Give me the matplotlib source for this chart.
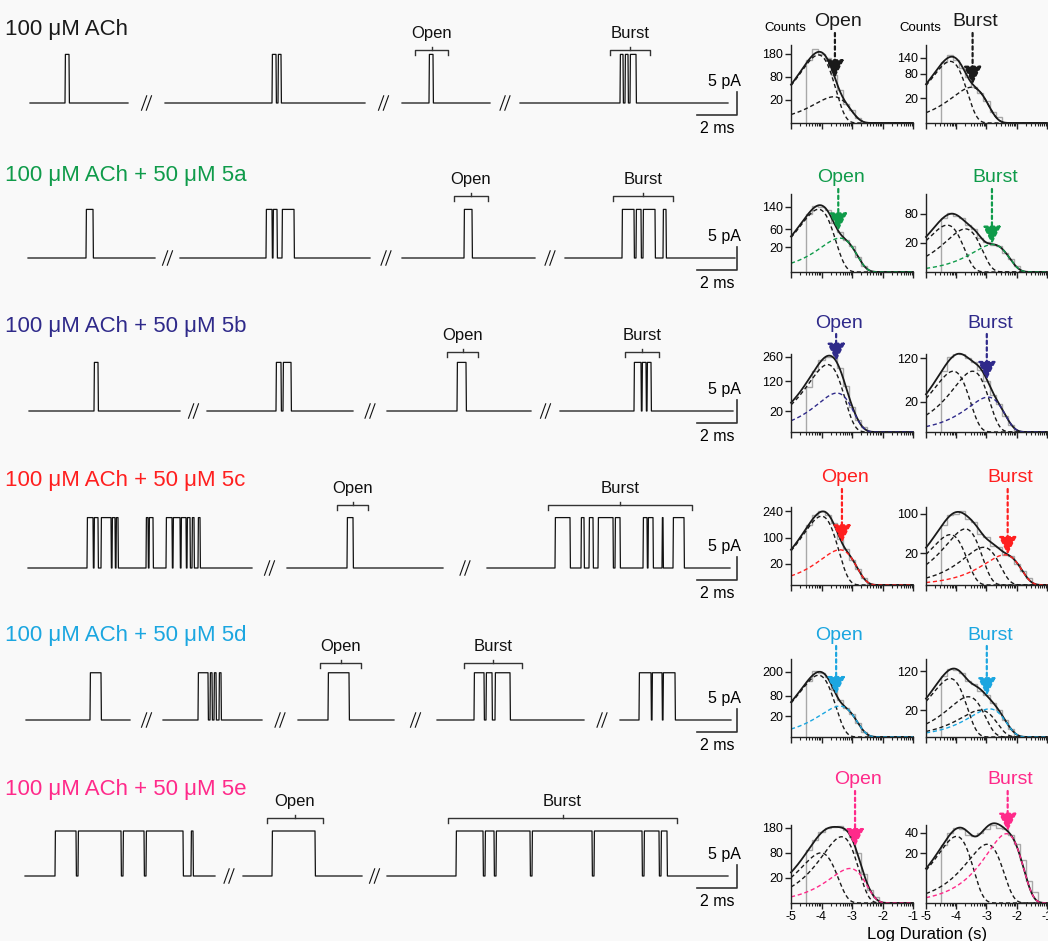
import numpy as np
import matplotlib
matplotlib.use('Agg')
import matplotlib.pyplot as plt

plt.rcParams['font.family'] = ['Liberation Sans', 'DejaVu Sans']
plt.rcParams['axes.unicode_minus'] = False

W, H = 1048, 941

# ---------------- data ----------------
row_labels = ['100 μM ACh', '100 μM ACh + 50 μM 5a', '100 μM ACh + 50 μM 5b',
              '100 μM ACh + 50 μM 5c', '100 μM ACh + 50 μM 5d', '100 μM ACh + 50 μM 5e']
row_colors = ['#1a1a1a', '#0f9b4a', '#2f2a8a', '#ff1f1f', '#1ba6e0', '#ff2a8a']

# single-channel trace segments (ms) and open intervals (ms)
trace_segments = [
    [(0.5, 5.4), (7.25, 17.25), (19.1, 23.5), (25.0, 35.4)],
    [(0.4, 6.75), (8.0, 17.5), (19.1, 25.75), (27.25, 35.75)],
    [(0.45, 8.0), (9.35, 16.65), (18.35, 25.55), (27.0, 35.65)],
    [(0.4, 11.6), (13.35, 21.15), (23.35, 35.5)],
    [(0.3, 5.5), (7.15, 12.1), (13.9, 18.7), (20.85, 28.2), (30.0, 35.55)],
    [(0.25, 9.75), (11.15, 17.1), (18.35, 35.4)],
]
trace_events = [
    [[(2.25, 2.45)], [(12.6, 12.8), (12.9, 13.05)], [(20.45, 20.65)],
     [(30.0, 30.15), (30.25, 30.4), (30.5, 30.8)]],
    [[(3.3, 3.65)], [(12.3, 12.6), (12.65, 12.85), (13.1, 13.7)], [(22.2, 22.6)],
     [(30.1, 30.7), (30.8, 31.05), (31.15, 31.75), (32.15, 32.3)]],
    [[(3.7, 3.9)], [(12.8, 13.05), (13.15, 13.55)], [(21.85, 22.3)],
     [(30.7, 31.05), (31.1, 31.3), (31.35, 31.55)]],
    [[(3.35, 3.65), (3.7, 3.9), (4.05, 4.55), (4.6, 4.75), (4.8, 4.9), (6.3, 6.4), (6.45, 6.65),
      (7.3, 7.6), (7.65, 8.0), (8.05, 8.3), (8.35, 8.5), (8.6, 8.7), (8.9, 9.0)],
     [(16.35, 16.65)],
     [(26.75, 27.5), (28.05, 28.2), (28.45, 28.65), (28.9, 29.65), (29.75, 30.0), (31.15, 31.35),
      (31.4, 31.65), (32.1, 32.15), (32.65, 33.2)]],
    [[(3.5, 4.05)], [(8.9, 9.4), (9.5, 9.6), (9.7, 9.8), (9.95, 10.05)], [(15.4, 16.45)],
     [(22.7, 23.2), (23.3, 23.6), (23.75, 24.5)], [(30.95, 31.55), (31.6, 32.1), (32.15, 32.75)]],
    [[(1.75, 2.8), (2.9, 5.05), (5.15, 6.2), (6.3, 8.15), (8.55, 8.65)], [(12.6, 14.75)],
     [(21.8, 23.15), (23.25, 23.7), (23.8, 25.5), (25.6, 28.6), (28.7, 31.1), (31.2, 31.95),
      (32.05, 32.35)]],
]
open_amp = [10.8, 10.8, 10.8, 11.2, 10.5, 10.0]          # pA
open_bracket = [(19.75, 21.4), (21.7, 23.4), (21.35, 22.9), (15.85, 17.4), (15.0, 17.05), (12.35, 15.15)]
burst_bracket = [(29.5, 31.5), (29.65, 32.65), (30.25, 31.95), (26.4, 33.6), (22.2, 25.1), (21.4, 32.85)]
bracket_level = [11.8, 13.8, 13.1, 14.0, 12.7, 12.9]     # pA

# dwell-time histograms: log10(duration) bins starting at -4.5, width 0.2
bin_start, bin_width = -4.5, 0.2
open_counts = [
    [150, 205, 182, 158, 86, 42, 14, 6, 1, 0],
    [112, 146, 140, 128, 78, 52, 33, 22, 7, 1],
    [95, 170, 240, 262, 258, 190, 98, 30, 7, 1],
    [160, 220, 246, 218, 170, 92, 58, 28, 12, 2],
    [150, 205, 196, 170, 102, 64, 40, 26, 9, 1],
    [88, 126, 160, 180, 186, 188, 172, 138, 80, 27, 5, 1],
]
burst_counts = [
    [122, 150, 131, 100, 70, 43, 30, 16, 4, 1],
    [68, 82, 74, 69, 52, 44, 27, 21, 17, 16, 9, 4, 1],
    [82, 125, 140, 134, 120, 110, 84, 58, 30, 17, 6, 1],
    [72, 98, 100, 108, 86, 78, 52, 45, 30, 29, 18, 17, 9, 4, 1],
    [105, 130, 124, 114, 86, 78, 60, 50, 32, 21, 8, 2],
    [27, 40, 46, 44, 38, 36, 40, 44, 50, 46, 44, 37, 28, 15, 4, 1],
]
# fitted components: (log10 tau, peak count); last component is the highlighted one
open_fit = [
    [(-4.1, 175), (-3.6, 26)],
    [(-4.1, 130), (-3.4, 38)],
    [(-3.8, 210), (-3.5, 70)],
    [(-4.0, 210), (-3.4, 55)],
    [(-4.1, 180), (-3.4, 45)],
    [(-4.02, 80), (-3.34, 140), (-3.07, 38)],
]
burst_fit = [
    [(-4.2, 125), (-3.5, 42)],
    [(-4.3, 52), (-3.7, 44), (-2.8, 18)],
    [(-4.1, 82), (-3.46, 82), (-2.95, 27)],
    [(-4.2, 50), (-3.7, 62), (-3.1, 28), (-2.4, 18)],
    [(-4.2, 95), (-3.6, 45), (-3.2, 20), (-2.9, 22)],
    [(-3.99, 36), (-2.98, 28), (-2.34, 39)],
]
open_arrow_x = [-3.56, -3.45, -3.52, -3.33, -3.52, -2.9]
burst_arrow_x = [-3.46, -2.82, -2.99, -2.3, -2.99, -2.3]
open_ticks = [[20, 80, 180], [20, 60, 140], [20, 120, 260], [20, 100, 240], [20, 80, 200], [20, 80, 180]]
burst_ticks = [[20, 80, 140], [20, 80], [20, 120], [20, 100], [20, 120], [20, 40]]
open_ymax = [230, 201, 281, 270, 287, 194]
burst_ymax = [200, 144, 135, 120, 169, 49.4]
xticks = [-5, -4, -3, -2, -1]

# ---------------- layout (pixels) ----------------
row_label_y = [30, 175, 326, 480, 635, 790]
trace_base_y = [103, 258, 411, 568, 720, 876]
hist_base_y = [123, 272, 432, 585, 737, 903]
hist_label_y = [22, 178, 323, 478, 635, 780]
PX_PER_PA = 4.5
HIST_H = 78

fig = plt.figure(figsize=(W / 100, H / 100), dpi=100)
fig.patch.set_facecolor('#f9f9f9')


def px_axes(x0, y_top, w, h):
    return fig.add_axes([x0 / W, 1 - (y_top + h) / H, w / W, h / H])


def comp(x, lt, peak):
    t = 10.0 ** (x - lt)
    return peak * np.e * t * np.exp(-t)


sqrt_f = (lambda y: np.sqrt(np.clip(y, 0, None)), lambda y: np.square(y))
xs = np.linspace(-5, -1, 400)
minor = [d + np.log10(k) for d in range(-5, -1) for k in range(2, 10)]

for r in range(6):
    col = row_colors[r]
    fig.text(5 / W, 1 - row_label_y[r] / H, row_labels[r], color=col, fontsize=16, va='center')

    # ---- trace ----
    base = trace_base_y[r]
    ax = px_axes(20, base - 90, 725, 120)
    ax.set_xlim(0, 725 / 20)
    ax.set_ylim(-30 / PX_PER_PA, 90 / PX_PER_PA)
    ax.axis('off')
    amp = open_amp[r]
    segs = trace_segments[r]
    for (s0, s1), evs in zip(segs, trace_events[r]):
        tx, ty = [s0], [0.0]
        for (a, b) in evs:
            tx += [a, a + 0.02, b, b + 0.02]
            ty += [0.0, amp, amp, 0.0]
        tx.append(s1)
        ty.append(0.0)
        ax.plot(tx, ty, color='#111111', lw=0.9)
    for (s0a, s1a), (s0b, s1b) in zip(segs[:-1], segs[1:]):
        m = 0.5 * (s1a + s0b)
        for off in (-0.12, 0.12):
            ax.plot([m + off - 0.13, m + off + 0.13], [-1.6, 1.6], color='#111111', lw=0.8)
    h = bracket_level[r]
    for (a, b), name in ((open_bracket[r], 'Open'), (burst_bracket[r], 'Burst')):
        ax.plot([a, a, b, b], [h - 1.2, h, h, h - 1.2], color='#333333', lw=1.0)
        xm = 0.5 * (a + b)
        ax.plot([xm, xm], [h, h + 0.6], color='#333333', lw=1.0)
        ax.text(xm, h + 3.6, name, ha='center', va='center', fontsize=12, color='#111111')
    sx0, sx1, sy0 = 33.85, 35.85, -2.6
    ax.plot([sx0, sx1, sx1], [sy0, sy0, sy0 + 5], color='#333333', lw=1.2)
    ax.text(36.05, sy0 + 7.4, '5 pA', ha='right', va='center', fontsize=11.5)
    ax.text(0.5 * (sx0 + sx1), sy0 - 3.0, '2 ms', ha='center', va='center', fontsize=11.5)

    # ---- histograms ----
    hb = hist_base_y[r]
    panels = [
        (791, 122, open_counts[r], open_fit[r], open_arrow_x[r], open_ticks[r], open_ymax[r], 'Open'),
        (926, 121, burst_counts[r], burst_fit[r], burst_arrow_x[r], burst_ticks[r], burst_ymax[r], 'Burst'),
    ]
    for (x0, w, counts, fit, axx, ticks, ymax, name) in panels:
        hx = px_axes(x0, hb - HIST_H, w, HIST_H)
        hx.set_facecolor('none')
        hx.set_yscale('function', functions=sqrt_f)
        hx.set_xlim(-5, -1)
        hx.set_ylim(0, ymax)
        edges = bin_start + bin_width * np.arange(len(counts) + 1)
        hx.stairs(counts, edges, color='#a8a8a8', lw=1.0, baseline=0)
        total = sum(comp(xs, lt, pk) for lt, pk in fit)
        hx.plot(xs, total, color='#1a1a1a', lw=1.3, clip_on=False)
        for i, (lt, pk) in enumerate(fit):
            c = col if i == len(fit) - 1 else '#1a1a1a'
            hx.plot(xs, comp(xs, lt, pk), color=c, lw=1.0, ls=(0, (3, 2)))
        tip = sum(comp(axx, lt, pk) for lt, pk in fit)
        ytxt = (hb - (hist_label_y[r] + 11)) / HIST_H
        hx.annotate('', xy=(axx, tip), xycoords='data', xytext=(axx, ytxt),
                    textcoords=('data', 'axes fraction'), annotation_clip=False,
                    arrowprops=dict(arrowstyle='-|>,head_length=0.9,head_width=0.45',
                                    color=col, lw=1.6, ls=(0, (1.5, 1.5)),
                                    mutation_scale=12, shrinkA=0, shrinkB=0))
        hx.text(axx + 0.1, (hb - hist_label_y[r]) / HIST_H, name, transform=hx.get_xaxis_transform(),
                ha='center', va='center', fontsize=14, color=col)
        for s in ('top', 'right'):
            hx.spines[s].set_visible(False)
        for s in ('left', 'bottom'):
            hx.spines[s].set_linewidth(1.0)
            hx.spines[s].set_color('#222222')
        hx.set_yticks(ticks)
        hx.set_yticklabels([str(t) for t in ticks])
        hx.yaxis.set_minor_locator(matplotlib.ticker.NullLocator())
        hx.set_xticks(xticks)
        hx.set_xticks(minor, minor=True)
        hx.tick_params(axis='both', which='major', length=4, width=1.0, labelsize=9, pad=1.5,
                       color='#222222')
        hx.tick_params(axis='x', which='minor', length=2, width=0.8, color='#222222')
        if r == 5:
            hx.set_xticklabels([str(t) for t in xticks])
        else:
            hx.set_xticklabels([])
        if r == 0:
            hx.text(-0.22, 1.22, 'Counts', transform=hx.transAxes, ha='left', va='center',
                    fontsize=9.5)

fig.text(927 / W, 1 - 935 / H, 'Log Duration (s)', ha='center', va='center', fontsize=12)

fig.savefig('out.png', dpi=100, facecolor=fig.get_facecolor())
